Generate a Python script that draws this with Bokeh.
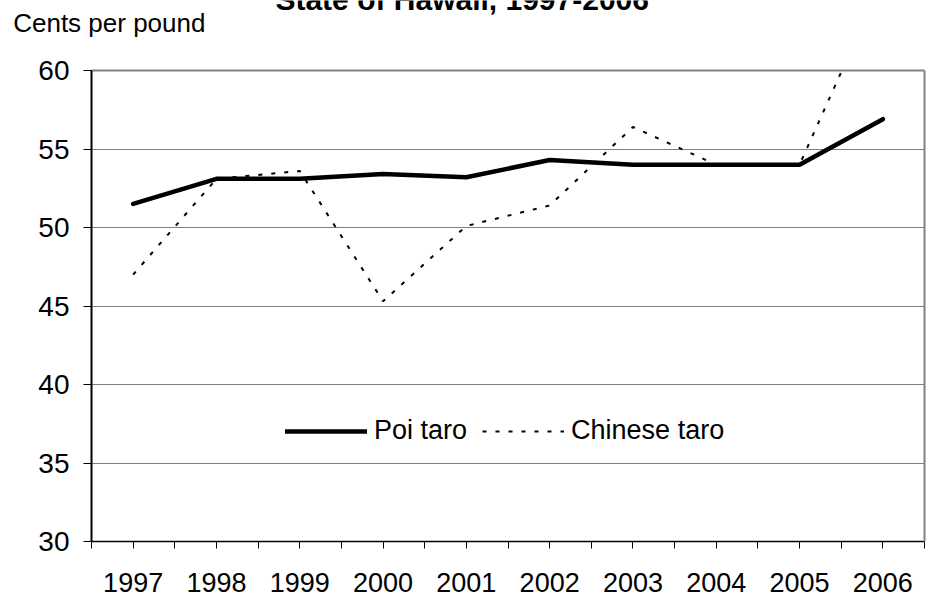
from bokeh.plotting import figure
from bokeh.models import (Range1d, FixedTicker, Label, Legend, LegendItem, LinearAxis,
                          BoxAnnotation)
from bokeh.embed import file_html
from bokeh.resources import INLINE

# ---- data ----
years = [1997, 1998, 1999, 2000, 2001, 2002, 2003, 2004, 2005, 2006]
poi_taro = [51.5, 53.1, 53.1, 53.4, 53.2, 54.3, 54.0, 54.0, 54.0, 56.9]
chinese_taro = [47.0, 53.1, 53.6, 45.3, 50.1, 51.4, 56.4, 54.0, 54.0, 65.8]
y_ticks = [30, 35, 40, 45, 50, 55, 60]
title_text = "State of Hawaii, 1997-2006"
y_label_text = "Cents per pound"
series_names = ["Poi taro", "Chinese taro"]

FONT = "Liberation Sans"
W, H = 932, 596
# plot area (pixels) inside the canvas
PL, PT, PR, PB = 91, 70, 924, 541

xa, xb = years[0] - 0.5, years[-1] + 0.5
ya, yb = y_ticks[0], y_ticks[-1]
ppx = (PR - PL) / (xb - xa)
ppy = (PB - PT) / (yb - ya)

def X(px):
    return xa + (px - PL) / ppx

def Y(py):
    return yb - (py - PT) / ppy

p = figure(width=W, height=H, x_range=Range1d(X(0), X(W)), y_range=Range1d(Y(H), Y(0)),
           output_backend="svg", toolbar_location=None, x_axis_location=None, y_axis_location=None,
           min_border=0, min_border_left=0, min_border_right=0, min_border_top=0, min_border_bottom=0,
           background_fill_color="white", border_fill_color="white")
p.outline_line_color = None

# grid
p.xgrid.visible = False
g = p.ygrid[0]
g.ticker = FixedTicker(ticks=y_ticks)
g.grid_line_color = "#808080"
g.grid_line_width = 1
try:
    g.cross_bounds = (xa, xb)
except Exception:
    g.visible = False
    p.segment(x0=[xa] * len(y_ticks), x1=[xb] * len(y_ticks), y0=y_ticks, y1=y_ticks,
              line_color="#808080", line_width=1, level="underlay")

r1 = p.line(years, poi_taro, line_width=4.5, line_color="black", line_cap="round", line_join="round")
r2 = p.line(years, chinese_taro, line_width=2, line_color="black", line_dash="4 9")

# hide anything above the top of the value axis
p.add_layout(BoxAnnotation(bottom=yb, left=xa, fill_color="white", fill_alpha=1.0, line_color=None))

# top border
tax = LinearAxis(fixed_location=yb, bounds=(xa, xb), ticker=FixedTicker(ticks=[]), level="overlay")
tax.major_label_text_font_size = "0px"
tax.major_tick_line_color = None
tax.minor_tick_line_color = None
tax.axis_line_color = "#808080"
tax.axis_line_width = 2
p.add_layout(tax, "above")

# y axis
yax = LinearAxis(fixed_location=xa, bounds=(ya, yb), ticker=FixedTicker(ticks=y_ticks), level="overlay")
yax.major_label_text_font = FONT
yax.major_label_text_font_size = "28px"
yax.major_label_text_color = "black"
yax.major_label_standoff = 14
yax.major_tick_out = 8
yax.major_tick_in = 0
yax.minor_tick_line_color = None
yax.axis_line_width = 2
yax.axis_line_color = "black"
yax.major_tick_line_color = "black"
p.add_layout(yax, "left")

# right border
rax = LinearAxis(fixed_location=xb, bounds=(ya, yb), ticker=FixedTicker(ticks=[]))
rax.major_label_text_font_size = "0px"
rax.major_tick_line_color = None
rax.minor_tick_line_color = None
rax.axis_line_color = "#808080"
rax.axis_line_width = 2
p.add_layout(rax, "right")

# x axis
bounds = [y - 0.5 for y in years] + [years[-1] + 0.5]
xax = LinearAxis(fixed_location=ya, bounds=(xa, xb), ticker=FixedTicker(ticks=years, minor_ticks=bounds))
xax.major_label_text_font = FONT
xax.major_label_text_font_size = "27px"
xax.major_label_text_color = "black"
xax.major_label_standoff = 24
xax.major_tick_out = 7
xax.major_tick_in = 0
xax.minor_tick_out = 7
xax.minor_tick_in = 0
xax.minor_tick_line_color = "black"
xax.major_tick_line_color = "black"
xax.axis_line_color = "black"
xax.axis_line_width = 1.5
p.add_layout(xax, "below")

# texts above the plot (baseline positions compensated for the renderer's offset)
p.add_layout(Label(x=X(461.7), y=Y(-0.7), text=title_text,
                   text_align="center", text_baseline="alphabetic",
                   text_font=FONT, text_font_size="30px", text_font_style="bold", text_color="black"))
p.add_layout(Label(x=X(12.7), y=Y(22.0), text=y_label_text,
                   text_align="left", text_baseline="alphabetic",
                   text_font=FONT, text_font_size="26px", text_color="black"))

legend = Legend(items=[LegendItem(label=series_names[0], renderers=[r1]),
                       LegendItem(label=series_names[1], renderers=[r2])],
                orientation="horizontal", location=(285, 150),
                glyph_width=82, glyph_height=20, label_standoff=7, spacing=15,
                padding=0, margin=0, border_line_alpha=0, background_fill_alpha=0,
                label_text_font=FONT, label_text_font_size="27px", label_text_color="black")
p.add_layout(legend)

open("out.html", "w").write(file_html(p, INLINE))
